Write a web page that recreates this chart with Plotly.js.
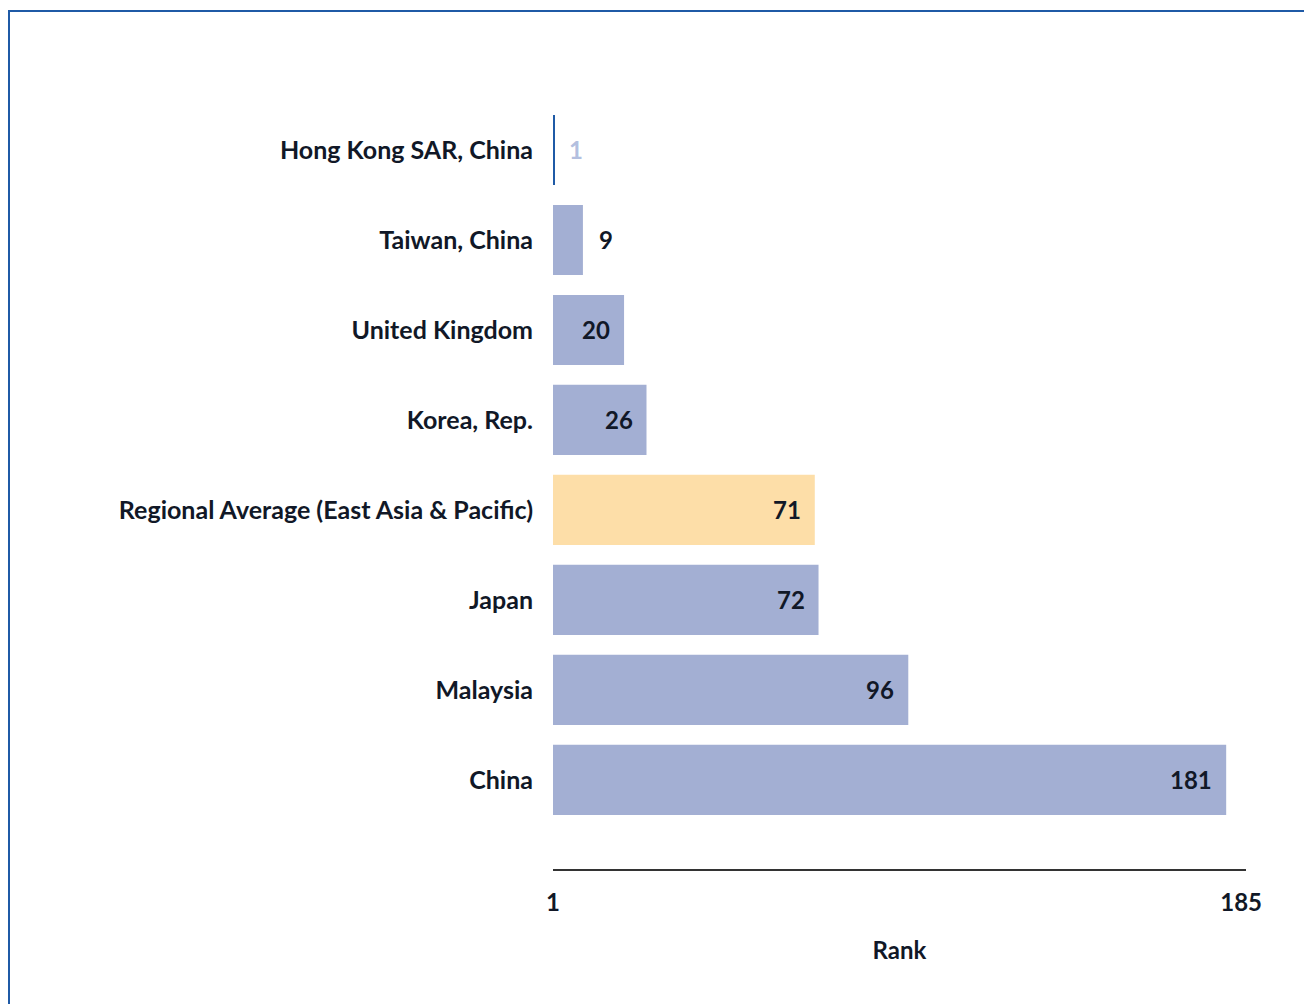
<!DOCTYPE html>
<html>
<head>
<meta charset="utf-8">
<script src="https://cdn.plot.ly/plotly-3.0.1.min.js"></script>
<style>
  html, body { margin: 0; padding: 0; background: #fff; }
  #wrap { position: relative; width: 1304px; height: 1004px; overflow: hidden; }
  #frame { position: absolute; left: 8px; top: 10px; width: 1400px; height: 1100px;
           border-top: 2px solid #1f5aa6; border-left: 2px solid #1f5aa6; box-sizing: border-box; pointer-events: none; }
  #chart { position: absolute; left: 0; top: 0; width: 1304px; height: 1004px; }
</style>
</head>
<body>
<div id="wrap">
  <div id="chart"></div>
  <div id="frame"></div>
</div>
<script>
// ---- data ----
const categories = [
  "Hong Kong SAR, China",
  "Taiwan, China",
  "United Kingdom",
  "Korea, Rep.",
  "Regional Average (East Asia & Pacific)",
  "Japan",
  "Malaysia",
  "China"
];
const ranks = [1, 9, 20, 26, 71, 72, 96, 181];
const highlightCategory = "Regional Average (East Asia & Pacific)";
const axisTickValues = [1, 185];
const axisTickLabels = ["1", "185"];
const axisTitle = "Rank";

// ---- styles ----
const barColor = "#a3afd3";
const highlightColor = "#fddea8";
const textColor = "#111827";
const fontFamily = "Lato, 'Open Sans', sans-serif";
const fontSize = 24;
const barFraction = 0.78;

const colors = categories.map(c => c === highlightCategory ? highlightColor : barColor);

const trace = {
  type: "bar",
  orientation: "h",
  y: categories,
  x: ranks,
  marker: { color: colors, line: { width: 0 } },
  width: barFraction,
  hoverinfo: "x+y"
};

// labels: inside near bar end when bar is wide enough, outside otherwise
const annotations = ranks.map((v, i) => {
  const outside = v < 15;
  return {
    x: v, y: categories[i], xref: "x", yref: "y",
    text: "<b>" + v + "</b>",
    showarrow: false,
    xanchor: outside ? "left" : "right",
    xshift: outside ? 14 : -12,
    font: { family: fontFamily, size: fontSize, color: i === 0 ? "#b3bfdf" : textColor }
  };
});

// the rank-1 bar has zero length: show it as a thin dark line at its value
const shapes = [{
  type: "line", xref: "x", yref: "y",
  x0: ranks[0], x1: ranks[0],
  y0: 0 - barFraction / 2, y1: 0 + barFraction / 2,
  line: { color: "#1f5aa6", width: 4 }
}];

const layout = {
  width: 1304, height: 1004,
  margin: { l: 553, r: 58, t: 105, b: 135, pad: 0 },
  paper_bgcolor: "rgba(0,0,0,0)",
  plot_bgcolor: "rgba(0,0,0,0)",
  showlegend: false,
  font: { family: fontFamily, size: fontSize, color: textColor },
  xaxis: {
    range: [1, 186.3],
    showgrid: false, zeroline: false,
    showline: true, linecolor: "#333333", linewidth: 2,
    tickvals: axisTickValues, ticktext: axisTickLabels.map(t => "<b>" + t + "</b>"),
    ticks: "", ticklabelstandoff: 11,
    tickfont: { family: fontFamily, size: fontSize, color: textColor },
    title: { text: "<b>" + axisTitle + "</b>", font: { family: fontFamily, size: fontSize, color: textColor }, standoff: 27 },
    fixedrange: true
  },
  yaxis: {
    type: "category",
    categoryorder: "array", categoryarray: categories,
    range: [7.99, -0.5],
    showgrid: false, zeroline: false, showline: false,
    ticks: "", ticklabelstandoff: 19,
    tickvals: categories,
    ticktext: categories.map(c => "<b>" + c.replace("&", "&amp;") + "</b>"),
    tickfont: { family: fontFamily, size: 25, color: textColor },
    fixedrange: true
  },
  annotations: annotations,
  shapes: shapes
};

Plotly.newPlot("chart", [trace], layout, { displayModeBar: false, staticPlot: true });
</script>
</body>
</html>
